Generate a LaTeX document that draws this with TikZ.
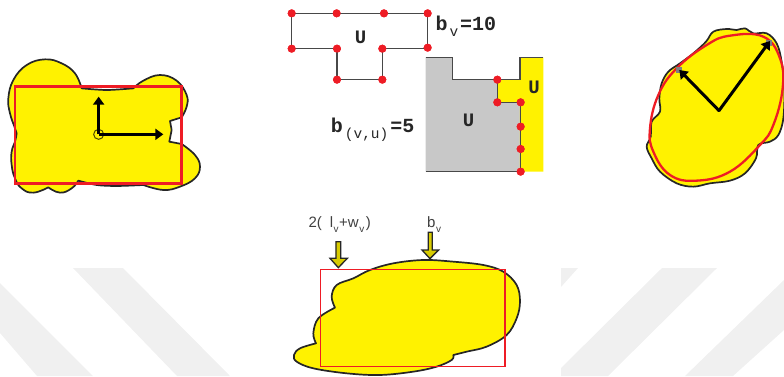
\documentclass[tikz,border=0pt]{standalone}
\usepackage{fontspec}
\setmainfont{Liberation Sans}
\newfontfamily\pixb{Liberation Mono}
\usetikzlibrary{arrows.meta}
\definecolor{wm}{HTML}{F0F0F0}
\definecolor{ye}{HTML}{FFF200}
\definecolor{rd}{HTML}{EE1C25}
\definecolor{ln}{HTML}{484848}
\definecolor{gy}{HTML}{C8C8C8}
\definecolor{ol}{HTML}{D8CC00}
\tikzset{
  outl/.style={draw=black!85,line width=1.7pt,fill=ye,line join=round},
  redbox/.style={draw=rd,line width=2.4pt},
  axisarrow/.style={draw=black,line width=2.7pt,-{Triangle[length=8pt,width=11pt]}},
  edge/.style={draw=ln,line width=1.6pt},
  reddot/.style={circle,fill=rd,inner sep=0pt,minimum size=8pt},
  lab/.style={inner sep=0pt,text=black!85},
  biglab/.style={lab,font=\pixb\bfseries\fontsize{19}{19}\selectfont},
  bmath/.style={lab,anchor=west,font=\pixb\bfseries\fontsize{20}{20}\selectfont},
  thinlab/.style={lab,anchor=west,font=\fontsize{15}{15}\selectfont,text=black!75},
  downarrow/.style={draw=black!85,line width=1.3pt,fill=ol,line join=miter}
}
\newcommand{\subbig}[1]{\hspace{2pt}\raisebox{-6pt}{\fontsize{14.5}{15}\selectfont\mdseries #1}\hspace{2pt}}
\newcommand{\subthin}[1]{\hspace{.5pt}\raisebox{-5pt}{\fontsize{10}{10}\selectfont #1}\hspace{.5pt}}
\begin{document}
\begin{tikzpicture}[x=1pt,y=-1pt]
\useasboundingbox (0,0) rectangle (784,376);
% watermark
\fill[wm] (0,283)--(93,376)--(37,376)--(0,333)--cycle;
\fill[wm] (73,268)--(123,268)--(230,376)--(177,376)--cycle;
\fill[wm] (561,268)--(578,268)--(561,287)--cycle;
\fill[wm] (662,268)--(717,268)--(608,376)--(561,376)--(561,368)--cycle;
\fill[wm] (784,280)--(784,330)--(733,376)--(685,376)--cycle;
% left shape
\begin{scope}[shift={(0,40)},x=.3333pt,y=-.3333pt]
\path[outl] plot[smooth,tension=.7] coordinates{(50,280)(45,265)(30,220)(25,175)(40,120)(80,75)(135,58)(185,70)(225,100)(245,145)}
 -- plot[smooth] coordinates{(245,145)(320,150)(400,145)}
 -- plot[smooth,tension=.7] coordinates{(400,145)(430,122)(480,105)(530,122)(560,165)(560,200)(545,232)}
 -- (510,243)--(515,270)--(508,305)--(545,312)
 -- plot[smooth,tension=.7] coordinates{(545,312)(585,345)(600,380)(585,415)(540,440)(490,450)(430,435)}
 -- plot[smooth] coordinates{(430,435)(350,438)(290,435)(235,422)}
 -- plot[smooth,tension=.8] coordinates{(235,422)(215,445)(180,458)(145,442)}
 -- plot[smooth,tension=.8] coordinates{(145,442)(100,458)(65,445)(45,415)(35,375)(35,335)(45,305)(50,280)} -- cycle;
\draw[redbox] (45,140) rectangle (545,430);
\coordinate (o1) at (296,283);
\coordinate (t1) at (296,170);
\coordinate (t2) at (490,283);
\node[circle,draw=black!70!ye,line width=1pt,fill=none,minimum size=10pt,inner sep=0pt] (c1) at (o1) {};
\draw[axisarrow] (o1)--(t1);
\draw[axisarrow] (o1)--(t2);
\end{scope}
% top graph
\begin{scope}[shift={(270,0)},x=.3333pt,y=-.3333pt]
\foreach \n/\p in {a/{65,40},b/{200,40},c/{342,40},d/{473,40},e/{473,143},f/{337,146},g/{337,239},h/{201,239},i/{201,146},j/{65,146}}{
  \node[reddot] (\n) at (\p) {};
}
\draw[edge] (a.center)--(d.center)--(e.center)--(473,146)--(f.center)--(g.center)--(h.center)--(i.center)--(j.center)--cycle;
\foreach \n in {a,b,c,d,e,f,g,h,i,j}{\fill[rd] (\n) circle (4pt);}
\node[biglab] (v1) at (272,113) {U};
\node[bmath] (bv) at (496,80) {b\subbig{v}=10};
% regions
\fill[gy] (467,172)--(547,172)--(547,239)--(682,239)--(682,307)--(750,307)--(750,515)--(467,515)--cycle;
\fill[ye] (682,239)--(750,239)--(750,172)--(820,172)--(820,515)--(750,515)--(750,307)--(682,307)--cycle;
\node[reddot] (p1) at (682,239) {};
\node[reddot] (p2) at (682,307) {};
\node[reddot] (p3) at (752,307) {};
\node[reddot] (p4) at (752,380) {};
\node[reddot] (p5) at (752,447) {};
\node[reddot] (p6) at (752,515) {};
\draw[edge] (467,172)--(547,172)--(547,239)--(750,239)--(750,172)--(820,172);
\draw[edge] (p1.center)--(p2.center)--(p3.center)--(p6.center)--(467,515);
\foreach \n in {p1,p2,p3,p4,p5,p6}{\fill[rd] (\n) circle (4pt);}
\node[biglab] (v2) at (596,360) {U};
\node[biglab] (u1) at (792,262) {U};
\node[bmath] (buv) at (182,390) {b\subbig{(v,u)}=5};
\end{scope}
% right shape
\begin{scope}[shift={(630,15)},x=.3333pt,y=-.3333pt]
\path[outl] plot[smooth cycle,tension=.6] coordinates{(228,80)(250,50)(290,42)(320,45)(345,40)(370,55)(410,55)(440,85)(455,140)(463,220)(460,310)(445,360)(420,380)(385,390)(378,430)(345,475)(300,497)(240,505)(190,515)(140,505)(90,470)(65,430)(50,395)(62,365)(65,320)(90,290)(88,250)(95,205)(115,170)(150,145)(190,115)};
\draw[draw=rd,line width=2.3pt] plot[smooth cycle,tension=.7] coordinates{(230,90)(300,62)(400,65)(450,130)(458,220)(430,330)(390,390)(300,470)(200,497)(120,480)(70,410)(60,340)(85,240)(140,160)};
\coordinate (o3) at (267,287);
\coordinate (t3) at (148,165);
\coordinate (t4) at (420,78);
\fill[gray] (148,165) ++(-9,-9) rectangle ++(18,18);
\fill[gray] (418,85) ++(-9,-9) rectangle ++(18,18);
\draw[axisarrow,line width=3pt,line cap=round] (o3)--(t3);
\draw[axisarrow,line width=3pt,line cap=round] (o3)--(t4);
\end{scope}
% bottom shape
\begin{scope}[shift={(280,205)},x=.3333pt,y=-.3333pt]
\path[outl] plot[smooth,tension=.6] coordinates{(520,450)(560,440)(620,425)(680,390)(710,340)(720,290)(710,240)(670,200)(610,180)(520,170)(430,165)(340,175)(270,195)(220,220)(170,240)(155,275)(165,308)}
 -- plot[smooth,tension=.6] coordinates{(165,308)(115,340)(100,385)(108,415)}
 -- plot[smooth,tension=.6] coordinates{(108,415)(60,430)(42,450)(50,470)(100,490)(200,505)(300,510)(400,500)(470,485)(515,465)(520,450)} -- cycle;
\draw[draw=rd,line width=1.2pt] (122,193) rectangle (675,485);
\path[downarrow] (168,110)--(182,110)--(182,160)--(202,160)--(175,188)--(150,160)--(168,160)--cycle;
\path[downarrow] (445,82)--(457,82)--(457,135)--(476,135)--(450,161)--(426,135)--(445,135)--cycle;
\node[thinlab] (perim) at (85,60) {2(\hspace{8pt}l\subthin{v}+w\subthin{v}\hspace{1pt})};
\node[thinlab] (bvb) at (441,60) {b\subthin{v}};
\end{scope}
\end{tikzpicture}
\end{document}
